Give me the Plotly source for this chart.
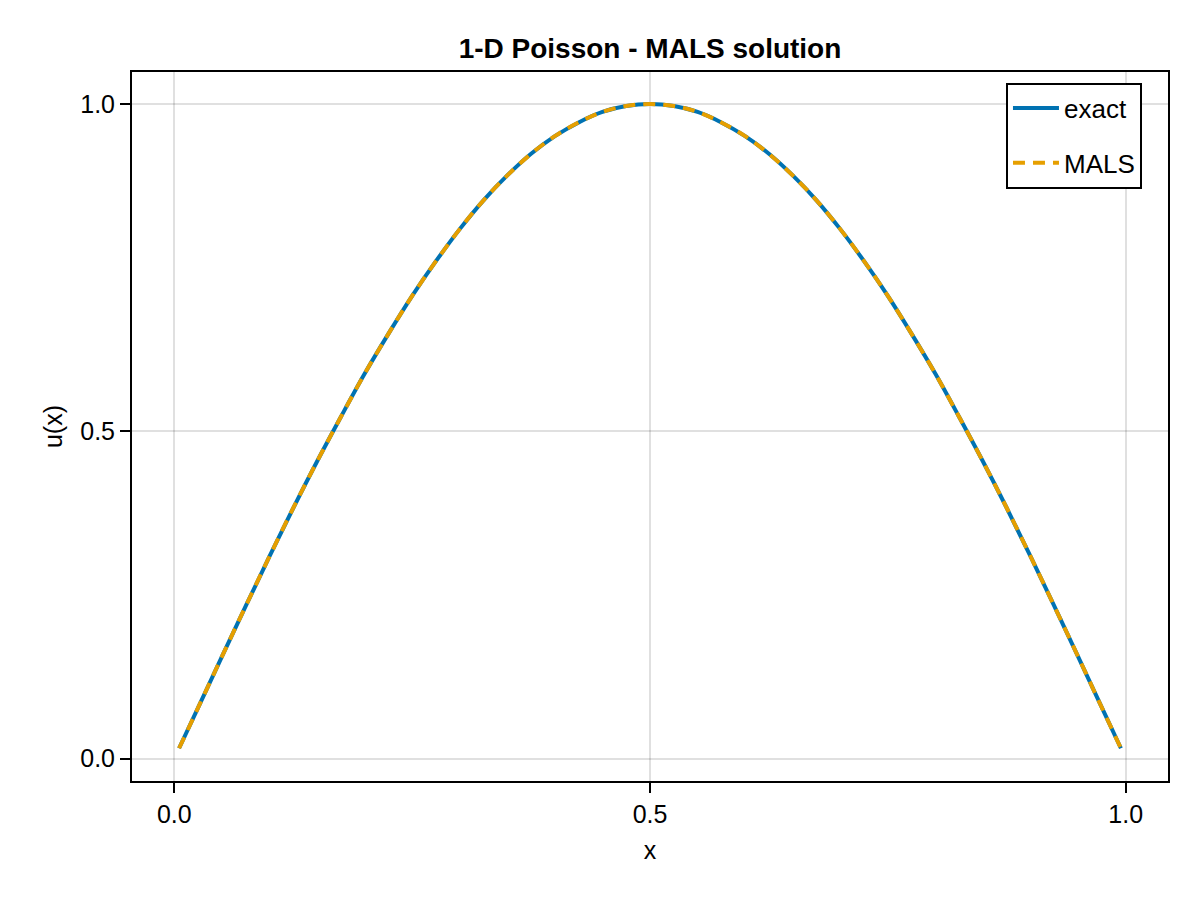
import plotly.graph_objects as go

x_vals = [0.005, 0.025, 0.05, 0.075, 0.1, 0.125, 0.15, 0.175, 0.2, 0.225, 0.25,
          0.275, 0.3, 0.325, 0.35, 0.375, 0.4, 0.425, 0.45, 0.475, 0.5,
          0.525, 0.55, 0.575, 0.6, 0.625, 0.65, 0.675, 0.7, 0.725, 0.75,
          0.775, 0.8, 0.825, 0.85, 0.875, 0.9, 0.925, 0.95, 0.975, 0.995]
u_exact = [0.016, 0.078, 0.156, 0.233, 0.309, 0.383, 0.454, 0.522, 0.588, 0.649, 0.707,
           0.760, 0.809, 0.853, 0.891, 0.924, 0.951, 0.972, 0.988, 0.997, 1.000,
           0.997, 0.988, 0.972, 0.951, 0.924, 0.891, 0.853, 0.809, 0.760, 0.707,
           0.649, 0.588, 0.522, 0.454, 0.383, 0.309, 0.233, 0.156, 0.078, 0.016]
u_mals = [0.016, 0.078, 0.156, 0.233, 0.309, 0.383, 0.454, 0.522, 0.588, 0.649, 0.707,
          0.760, 0.809, 0.853, 0.891, 0.924, 0.951, 0.972, 0.988, 0.997, 1.000,
          0.997, 0.988, 0.972, 0.951, 0.924, 0.891, 0.853, 0.809, 0.760, 0.707,
          0.649, 0.588, 0.522, 0.454, 0.383, 0.309, 0.233, 0.156, 0.078, 0.016]
tick_vals = [0.0, 0.5, 1.0]
tick_text = ['0.0', '0.5', '1.0']

fig = go.Figure()
fig.add_trace(go.Scatter(x=x_vals, y=u_exact, mode='lines', name='exact', legendgroup='a',
                         line=dict(color='#0072B2', width=4, shape='spline')))
fig.add_trace(go.Scatter(x=x_vals, y=u_mals, mode='lines', name='MALS', legendgroup='b',
                         line=dict(color='#E69F00', width=4, dash='12px,8px', shape='spline')))

axis_common = dict(
    showline=True, linecolor='black', linewidth=2, mirror=True,
    showgrid=True, gridcolor='rgba(0,0,0,0.12)', gridwidth=1.5,
    zeroline=False, ticks='outside', ticklen=10, tickwidth=2, tickcolor='black',
    tickmode='array', tickvals=tick_vals, ticktext=tick_text,
    tickfont=dict(size=25, color='black'),
)

fig.update_layout(
    width=1200, height=900,
    font=dict(family='Liberation Sans, Arial, sans-serif', color='black'),
    title=dict(text='<b>1-D Poisson - MALS solution</b>', x=0.535, xanchor='center',
               y=0.9556, yanchor='middle', font=dict(size=28)),
    xaxis=dict(axis_common, range=[-0.0445, 1.0445],
               title=dict(text='x', font=dict(size=25), standoff=14)),
    yaxis=dict(axis_common, range=[-0.034, 1.049],
               title=dict(text='u(x)', font=dict(size=25), standoff=10)),
    legend=dict(x=0.8436, y=0.985, xanchor='left', yanchor='top',
                bordercolor='black', borderwidth=2, bgcolor='white',
                font=dict(size=26), tracegroupgap=18, itemwidth=46,
                entrywidth=114),
    plot_bgcolor='white', paper_bgcolor='white',
    margin=dict(l=124, r=40, t=64, b=127),
)

fig.write_html('out.html')
